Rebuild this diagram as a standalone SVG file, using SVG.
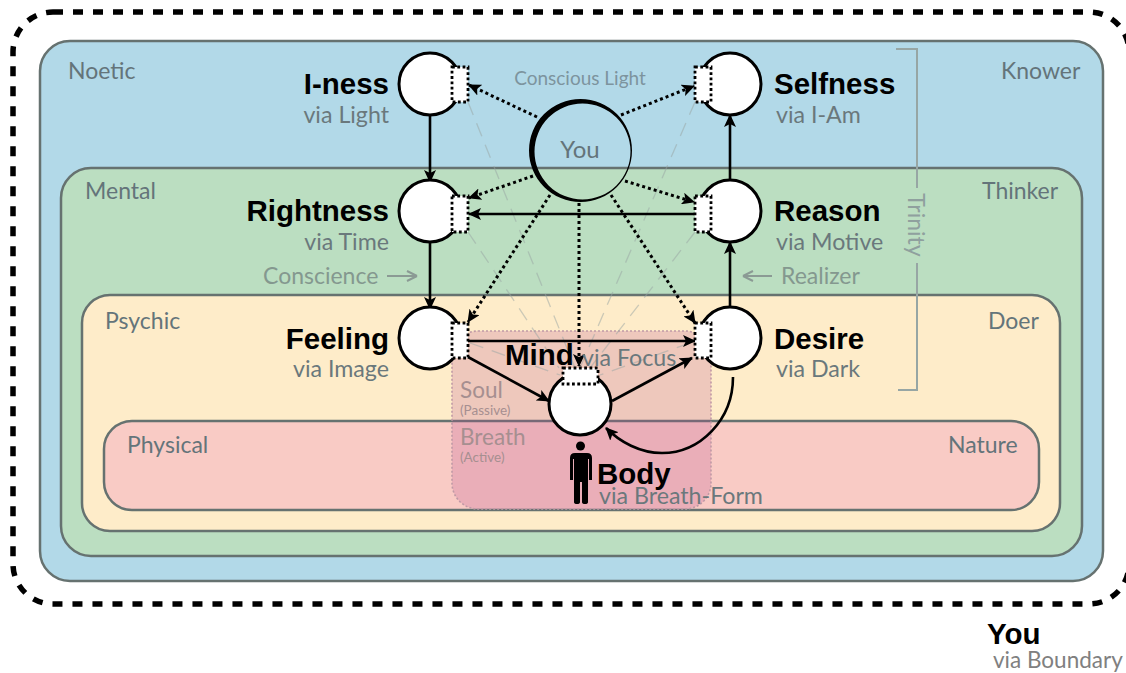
<svg xmlns="http://www.w3.org/2000/svg" width="1126" height="673" viewBox="0 0 1126 673">
<style>
.z{stroke:#667270;stroke-width:2.5}
.t{font-family:Lato,"Open Sans",sans-serif;fill:#64747a}
.lab{font-size:23px}
.via{font-family:Lato,"Open Sans",sans-serif;font-size:23.200px;fill:#6a787c}
.n{font-family:"Liberation Sans",Arial,sans-serif;font-weight:700;font-size:29.500px;fill:#000}
.sb{font-family:Lato,"Open Sans",sans-serif;fill:#a68f90}
.c{fill:#fff;stroke:#000;stroke-width:3}
.s{fill:#fff;stroke:#000;stroke-width:2.800;stroke-dasharray:2.800 2.500}
.a{fill:none;stroke:#000;stroke-width:2.600;marker-end:url(#ah)}
.d{fill:none;stroke:#000;stroke-width:3;stroke-dasharray:3 3;marker-end:url(#ah)}
.g{fill:none;stroke:#9aa6a4;stroke-width:1.300;stroke-dasharray:14 9;opacity:.5}
</style>
<defs>
<marker id="ah" markerUnits="userSpaceOnUse" markerWidth="14" markerHeight="12" refX="12" refY="6" orient="auto"><path d="M0 0L13 6L0 12L3 6Z" fill="#000"/></marker>
</defs>
<rect width="1126" height="673" fill="#fff"/>
<g id="zones">
<rect x="13" y="12" width="1116" height="592" rx="40" fill="none" stroke="#000" stroke-width="5.500" stroke-dasharray="10 10"/>
<rect class="z" x="40" y="41" width="1063" height="540" rx="30" fill="#b2d9e8"/>
<rect class="z" x="61" y="168" width="1021" height="388" rx="30" fill="#bbdec1"/>
<rect class="z" x="82" y="295" width="978" height="236" rx="28" fill="#feecc9"/>
<rect class="z" x="104" y="421" width="935" height="89" rx="28" fill="#f9cbc5"/>
<text class="t lab" x="68" y="79">Noetic</text>
<text class="t lab" x="1001" y="79">Knower</text>
<text class="t lab" x="85" y="199">Mental</text>
<text class="t lab" x="982" y="199">Thinker</text>
<text class="t lab" x="105" y="329">Psychic</text>
<text class="t lab" x="988" y="329">Doer</text>
<text class="t lab" x="127" y="453">Physical</text>
<text class="t lab" x="948" y="453">Nature</text>
</g>
<g id="soul-breath">
<rect x="452" y="331" width="259" height="178" rx="26" fill="#b84a8c" fill-opacity=".22" stroke="#c09aa6" stroke-width="1.600" stroke-dasharray="2 2"/>
<text class="sb" x="460" y="398" font-size="22.500">Soul</text>
<text class="sb" x="460" y="415" font-size="13.500">(Passive)</text>
<text class="sb" x="460" y="445" font-size="22.500">Breath</text>
<text class="sb" x="460" y="462" font-size="13.500">(Active)</text>
</g>
<g id="trinity" fill="none" stroke="#97a6a4" stroke-width="2">
<path d="M896 49H917V188M917 263V390H898"/>
<text x="908" y="225" transform="rotate(90 908 225)" text-anchor="middle" stroke="none" fill="#8fa09e" font-family="Lato,sans-serif" font-size="23">Trinity</text>
</g>
<g id="connectors">
<path class="g" d="M468 102L575 368M695 102L580 368M468 232L559 368M695 232L590 368M470 343L560 375M690 343L600 375"/>
<path class="a" d="M430 115V182"/>
<path class="a" d="M430 242V309"/>
<path class="a" d="M730 180V115"/>
<path class="a" d="M730 307V242"/>
<path class="a" d="M694 214H469"/>
<path class="a" d="M468 341H695"/>
<path class="a" d="M468 357L549 401"/>
<path class="a" d="M612 401L692 358"/>
<path class="a" d="M733 377C733 420 700 453 662 453C640 453 620 442 606 428"/>
<path class="d" d="M537 117L469 85"/>
<path class="d" d="M621 115L694 86"/>
<path class="d" d="M533 176L469 198"/>
<path class="d" d="M625 181L694 202"/>
<path class="d" d="M550 195L468 322"/>
<path class="d" d="M579 203V366"/>
<path class="d" d="M611 195L695 323"/>
</g>
<g id="you-center">
<path fill-rule="evenodd" d="M529 150.500a51.500 51.500 0 1 0 103 0a51.500 51.500 0 1 0-103 0ZM534.500 151.500a48 48 0 1 0 96 0a48 48 0 1 0-96 0Z" fill="#000"/>
<text class="t" x="580" y="158" text-anchor="middle" font-size="24">You</text>
<text x="580" y="85" text-anchor="middle" font-size="19" font-family="Lato,sans-serif" fill="#7d949e">Conscious Light</text>
</g>
<g id="i-ness"><circle class="c" cx="430" cy="84" r="31"/><rect class="s" x="452" y="67" width="16" height="35"/><text class="n" x="389" y="94" text-anchor="end">I-ness</text><text class="via" x="389" y="123" text-anchor="end">via Light</text></g>
<g id="selfness"><circle class="c" cx="730" cy="84" r="31"/><rect class="s" x="695" y="67" width="16" height="35"/><text class="n" x="774" y="94">Selfness</text><text class="via" x="776" y="123">via I-Am</text></g>
<g id="rightness"><circle class="c" cx="430" cy="211" r="31"/><rect class="s" x="452" y="196" width="16" height="36"/><text class="n" x="389" y="221" text-anchor="end">Rightness</text><text class="via" x="389" y="250" text-anchor="end">via Time</text></g>
<g id="reason"><circle class="c" cx="730" cy="211" r="31"/><rect class="s" x="695" y="196" width="16" height="36"/><text class="n" x="774" y="221">Reason</text><text class="via" x="776" y="250">via Motive</text></g>
<g id="feeling"><circle class="c" cx="430" cy="338" r="31"/><rect class="s" x="452" y="323" width="16" height="35"/><text class="n" x="389" y="349" text-anchor="end">Feeling</text><text class="via" x="389" y="377" text-anchor="end">via Image</text></g>
<g id="desire"><circle class="c" cx="730" cy="338" r="31"/><rect class="s" x="695" y="323" width="16" height="35"/><text class="n" x="774" y="349">Desire</text><text class="via" x="776" y="377">via Dark</text></g>
<g id="mind"><circle class="c" cx="580" cy="404" r="31"/><rect class="s" x="563" y="368" width="35" height="16"/><text class="n" x="505" y="365">Mind</text><text class="via" x="582" y="366">via Focus</text></g>
<g id="body">
<path fill="#000" d="M570 458q0-5 5-5h12q5 0 5 5v22h-3v-21h-1v43q0 2-3 2t-3-2v-20h-2v20q0 2-3 2t-3-2v-43h-1v21h-3Z"/><circle cx="580.500" cy="446" r="4.500" fill="#000"/>
<text class="n" x="597" y="484">Body</text><text class="via" x="599" y="504">via Breath-Form</text>
</g>
<g id="labels">
<text class="t lab" x="263" y="284" style="fill:#84988f">Conscience</text>
<text class="t lab" x="781" y="284" style="fill:#84988f">Realizer</text>
<path d="M387 276H416M417 276L407 271M417 276L407 281" fill="none" stroke="#8b9a94" stroke-width="2"/>
<path d="M772 276H744M743 276L753 271M743 276L753 281" fill="none" stroke="#8b9a94" stroke-width="2"/>
<text class="n" x="987" y="644">You</text>
<text class="via" x="993" y="668" font-size="22.500" style="fill:#808080;font-size:22.500px">via Boundary</text>
</g>
</svg>
